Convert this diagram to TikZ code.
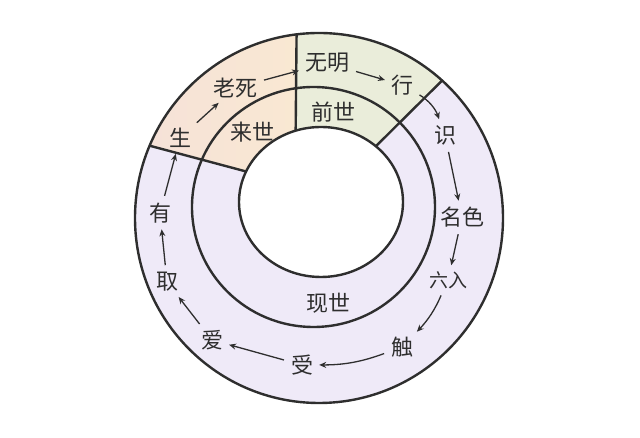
\documentclass[tikz,border=0pt]{standalone}
\usepackage{fontspec}
\newfontfamily\cjk{Noto Sans CJK SC}
\usepackage{xcolor}
\usepackage{tikz}
\usetikzlibrary{arrows.meta}
\definecolor{ringline}{HTML}{2E2E2E}
\definecolor{lavender}{HTML}{EFEAF8}
\definecolor{peachL}{HTML}{F6E2D8}
\definecolor{peachR}{HTML}{F9E8D2}
\definecolor{sage}{HTML}{EAEDDA}
\tikzset{
  link/.style={font=\cjk\fontsize{22}{22}\selectfont, text=ringline, inner sep=2pt},
  flow/.style={-{Stealth[length=7pt,width=6pt]}, line width=1.3pt, ringline, shorten <=5pt, shorten >=4pt},
  ring/.style={line width=2.4pt, ringline},
}
\begin{document}
\begin{tikzpicture}[x=1pt,y=1pt]
			\useasboundingbox (0,0) rectangle (640,438);
			% centres of the three rings
			\coordinate (co) at (319,220);
			\coordinate (cm) at (313.5,231);
			\coordinate (ci) at (321,236);
			% ends of the dividers
			\coordinate (leftout) at ([shift={(157:184 and 185)}]co);
			\coordinate (leftin) at ([shift={(156:82 and 75)}]ci);
			\coordinate (topout) at ([shift={(97:184 and 185)}]co);
			\coordinate (topin) at ([shift={(108:82 and 75)}]ci);
			\coordinate (rightout) at ([shift={(48:184 and 185)}]co);
			\coordinate (rightin) at ([shift={(48:82 and 75)}]ci);
			% Tô màu
			\fill[lavender] (co) ellipse [x radius=184, y radius=185];
			\shade[left color=peachL, right color=peachR] (leftout) arc [start angle=157, end angle=97, x radius=184, y radius=185]
				-- (topin) arc [start angle=108, end angle=156, x radius=82, y radius=75] -- cycle;
			\fill[sage] (topout) arc [start angle=97, end angle=48, x radius=184, y radius=185]
				-- (rightin) arc [start angle=48, end angle=108, x radius=82, y radius=75] -- cycle;
			\fill[white] (ci) ellipse [x radius=82, y radius=75];
			% Vẽ vòng
			\draw[ring] (co) ellipse [x radius=184, y radius=185];
			\draw[ring] (cm) ellipse [x radius=121.5, y radius=120];
			\draw[ring] (ci) ellipse [x radius=82, y radius=75];
			\draw[ring] (leftout) -- (leftin);
			\draw[ring] (topout) -- (topin);
			\draw[ring] (rightout) -- (rightin);
			% mười hai nhân duyên
			\node[link] (wuming) at (327,375) {无明};
			\node[link] (xing) at (402,353) {行};
			\node[link] (shi) at (445,303) {识};
			\node[link] (mingse) at (462,221) {名色};
			\node[link, font=\cjk\fontsize{19}{19}\selectfont] (liuru) at (448,158) {六入};
			\node[link] (chu) at (402,91) {触};
			\node[link] (shou) at (302,73) {受};
			\node[link] (ai) at (212,98) {爱};
			\node[link] (qu) at (167,156) {取};
			\node[link] (you) at (160,225) {有};
			\node[link] (sheng) at (180,300) {生};
			\node[link] (laosi) at (235,350) {老死};
			% ba đời
			\node[link] (qianshi) at (333,326) {前世};
			\node[link] (xianshi) at (328,135) {现世};
			\node[link] (laishi) at (252,306) {来世};
			% mũi tên
			\draw[flow] (wuming) -- (xing);
			\draw[flow] (xing) to[bend left=20] (shi);
			\draw[flow] (shi) -- (mingse);
			\draw[flow] (mingse) -- (liuru);
			\draw[flow] (liuru) to[bend left=10] (chu);
			\draw[flow] (chu) to[bend left=10] (shou);
			\draw[flow] (shou) -- (ai);
			\draw[flow] (ai) -- (qu);
			\draw[flow] (qu) -- (you);
			\draw[flow] (you) -- (sheng);
			\draw[flow] (sheng) -- (laosi);
			\draw[flow] (laosi) -- (wuming);
		\end{tikzpicture}
\end{document}
